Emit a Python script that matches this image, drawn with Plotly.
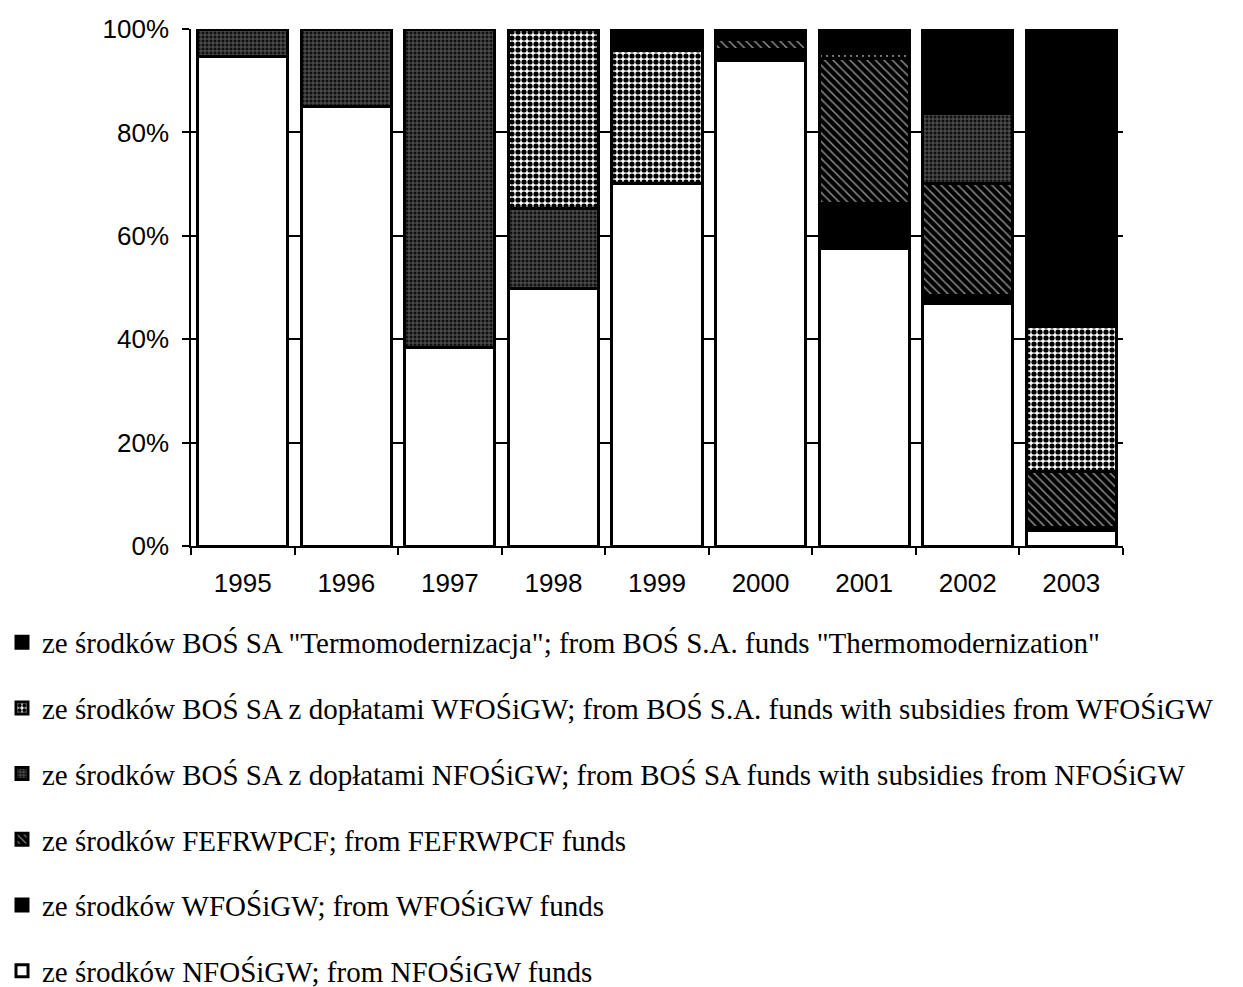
import plotly.graph_objects as go

years = ["1995", "1996", "1997", "1998", "1999", "2000", "2001", "2002", "2003"]

nfos = [94.6, 85.1, 38.3, 49.9, 70.2, 94.0, 57.6, 47.0, 3.0]
wfos = [0, 0, 0, 0, 0, 2.1, 8.7, 1.5, 0.5]
fefr = [0, 0, 0, 0, 0, 1.9, 27.9, 21.7, 11.0]
bos_nfos = [5.4, 14.9, 61.7, 15.3, 0, 0, 0, 13.4, 0]
bos_wfos = [0, 0, 0, 34.8, 25.7, 0, 1.0, 0, 28.0]
termo = [0, 0, 0, 0, 4.1, 2.0, 4.8, 16.4, 57.5]

names = [
    "ze środków NFOŚiGW; from NFOŚiGW funds",
    "ze środków WFOŚiGW; from WFOŚiGW funds",
    "ze środków FEFRWPCF; from FEFRWPCF funds",
    "ze środków BOŚ SA z dopłatami NFOŚiGW; from BOŚ SA funds with subsidies from NFOŚiGW",
    "ze środków BOŚ SA z dopłatami WFOŚiGW; from BOŚ S.A. funds with subsidies from WFOŚiGW",
    "ze środków BOŚ SA \"Termomodernizacja\"; from BOŚ S.A. funds \"Thermomodernization\"",
]
series = [nfos, wfos, fefr, bos_nfos, bos_wfos, termo]

patterns = [
    dict(shape="", bgcolor="white", fgcolor="white"),
    dict(shape="", bgcolor="black", fgcolor="black"),
    dict(shape="\\", bgcolor="black", fgcolor="#8a8a8a", size=6, solidity=0.25, fillmode="replace"),
    dict(shape="+", bgcolor="#111111", fgcolor="#7a7a7a", size=4, solidity=0.3, fillmode="replace"),
    dict(shape=".", bgcolor="white", fgcolor="black", size=6, solidity=0.6, fillmode="replace"),
    dict(shape="", bgcolor="black", fgcolor="black"),
]
colors = ["white", "black", "black", "#111111", "white", "black"]

fig = go.Figure()
for i, (nm, vals) in enumerate(zip(names, series)):
    fig.add_trace(go.Bar(
        x=years,
        y=[v if v else None for v in vals],
        name=nm,
        legendgroup=f"g{i}",
        legendrank=100 - i,
        marker=dict(color=colors[i], line=dict(color="black", width=3), pattern=patterns[i]),
    ))

fig.update_layout(
    width=1235, height=979,
    barmode="stack", bargap=0.13,
    plot_bgcolor="white", paper_bgcolor="white",
    margin=dict(l=183, r=120, t=21, b=441, autoexpand=False),
    showlegend=True,
    legend=dict(
        x=-189 / 932, y=-0.137, xanchor="left", yanchor="top",
        traceorder="grouped", tracegroupgap=25,
        font=dict(family="Liberation Serif", size=29, color="black"),
        itemwidth=30,
    ),
    font=dict(family="Liberation Sans", size=26, color="black"),
)
fig.update_yaxes(
    range=[0, 100], dtick=20, ticksuffix="%",
    showline=True, linecolor="black", linewidth=1.5,
    ticks="outside", ticklen=7, tickcolor="black", tickwidth=1.5,
    showgrid=True, gridcolor="black", gridwidth=1.5,
    ticklabelstandoff=8, zeroline=False,
)
fig.update_xaxes(
    showline=True, linecolor="black", linewidth=1.5,
    ticks="outside", tickson="boundaries", ticklen=7, tickcolor="black", tickwidth=1.5,
    ticklabelstandoff=13,
)

fig.write_html("out.html")
